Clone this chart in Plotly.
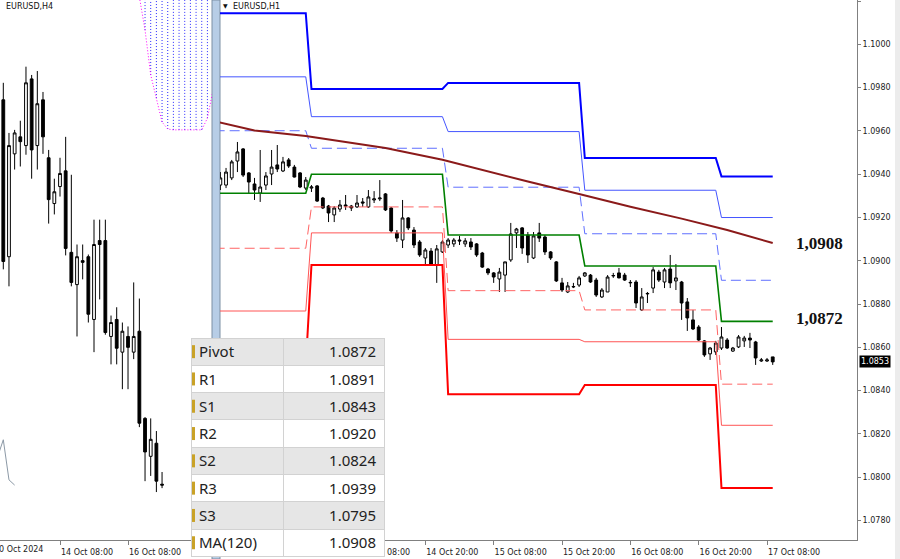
import plotly.graph_objects as go

# ---------------- H4 panel (left) ----------------
h4_bar = list(range(29))
h4_open = [1.09434, 1.09074, 1.09310, 1.09349, 1.09329, 1.09482, 1.09329, 1.09434, 1.09301, 1.09196,
           1.09235, 1.09271, 1.09084, 1.09010, 1.09065, 1.09074, 1.08930, 1.09111, 1.09111, 1.08891,
           1.08930, 1.08855, 1.08891, 1.08855, 1.08903, 1.08703, 1.08616, 1.08646, 1.08552]
h4_high = [1.09473, 1.09358, 1.09365, 1.09386, 1.09510, 1.09491, 1.09500, 1.09452, 1.09319, 1.09253,
           1.09301, 1.09349, 1.09262, 1.09102, 1.09102, 1.09079, 1.09159, 1.09159, 1.09159, 1.08939,
           1.08958, 1.08923, 1.08914, 1.09015, 1.08978, 1.08706, 1.08703, 1.08674, 1.08580]
h4_low = [1.09045, 1.09006, 1.09274, 1.09281, 1.09308, 1.09253, 1.09274, 1.09310, 1.09150, 1.09171,
          1.09212, 1.09077, 1.09006, 1.08891, 1.09022, 1.08923, 1.08855, 1.08976, 1.08895, 1.08827,
          1.08827, 1.08770, 1.08770, 1.08839, 1.08683, 1.08559, 1.08571, 1.08534, 1.08543]
h4_close = [1.09063, 1.09329, 1.09358, 1.09338, 1.09473, 1.09319, 1.09425, 1.09349, 1.09205, 1.09223,
            1.09265, 1.09093, 1.09015, 1.09074, 1.09061, 1.08942, 1.09102, 1.09102, 1.08900, 1.08923,
            1.08864, 1.08903, 1.08866, 1.08891, 1.08692, 1.08626, 1.08655, 1.08559, 1.08550]
h4_tick_bars = [10, 22]
h4_tick_text = ["14 Oct 08:00", "16 Oct 08:00"]
h4_first_label = "10 Oct 2024"

h4_chikou_bar = [-1, 0, 1, 2]
h4_chikou = [1.08615, 1.08654, 1.08562, 1.08550]

cloud_bar = [24, 25, 26, 27, 28, 29, 30, 31, 32, 33, 34, 35, 36, 37]
cloud_lower = [1.09670, 1.09594, 1.09491, 1.09438, 1.09383, 1.09367, 1.09365, 1.09365, 1.09365,
               1.09365, 1.09365, 1.09365, 1.09392, 1.09457]
cloud_upper = [1.09720, 1.09720, 1.09720, 1.09720, 1.09720, 1.09720, 1.09720, 1.09720, 1.09720,
               1.09720, 1.09720, 1.09720, 1.09720, 1.09720]

# ---------------- H1 panel (right) ----------------
h1_bar = list(range(-24, 74))
h1_open = [1.09350, 1.09350, 1.09383, 1.09461, 1.09517, 1.09406, 1.09355, 1.09313, 1.09350, 1.09401,
           1.09443, 1.09415, 1.09466, 1.09433, 1.09406, 1.09336, 1.09336, 1.09346, 1.09290, 1.09253,
           1.09212, 1.09239, 1.09258, 1.09253, 1.09249, 1.09272, 1.09249, 1.09281, 1.09286, 1.09309,
           1.09244, 1.09129, 1.09096, 1.09198, 1.09142, 1.09087, 1.09013, 1.09045, 1.08981, 1.09041,
           1.09073, 1.09078, 1.09096, 1.09078, 1.09087, 1.09078, 1.09036, 1.08962, 1.08944, 1.08916,
           1.08934, 1.09004, 1.09129, 1.09152, 1.09119, 1.09013, 1.09129, 1.09110, 1.09041, 1.08995,
           1.08898, 1.08856, 1.08879, 1.08888, 1.08930, 1.08934, 1.08911, 1.08833, 1.08856, 1.08930,
           1.08944, 1.08934, 1.08898, 1.08902, 1.08773, 1.08847, 1.08874, 1.08948, 1.08902, 1.08962,
           1.08907, 1.08902, 1.08810, 1.08727, 1.08694, 1.08630, 1.08570, 1.08579, 1.08597, 1.08634,
           1.08583, 1.08602, 1.08630, 1.08643, 1.08625, 1.08537, 1.08537, 1.08556]
h1_high = [1.09410, 1.09429, 1.09466, 1.09549, 1.09521, 1.09410, 1.09383, 1.09512, 1.09410, 1.09512,
           1.09535, 1.09480, 1.09475, 1.09443, 1.09410, 1.09387, 1.09350, 1.09350, 1.09295, 1.09258,
           1.09253, 1.09281, 1.09304, 1.09258, 1.09304, 1.09290, 1.09327, 1.09322, 1.09373, 1.09313,
           1.09249, 1.09142, 1.09281, 1.09202, 1.09156, 1.09096, 1.09059, 1.09059, 1.09073, 1.09096,
           1.09105, 1.09105, 1.09115, 1.09105, 1.09105, 1.09082, 1.09041, 1.08967, 1.08948, 1.08967,
           1.08995, 1.09175, 1.09152, 1.09156, 1.09133, 1.09133, 1.09175, 1.09119, 1.09045, 1.08999,
           1.08921, 1.08902, 1.08898, 1.08930, 1.08948, 1.08939, 1.08921, 1.08874, 1.08934, 1.08944,
           1.08967, 1.08944, 1.08911, 1.08911, 1.08874, 1.08856, 1.08971, 1.08958, 1.08967, 1.09027,
           1.08985, 1.08907, 1.08828, 1.08773, 1.08703, 1.08634, 1.08602, 1.08630, 1.08694, 1.08643,
           1.08602, 1.08657, 1.08653, 1.08667, 1.08630, 1.08551, 1.08551, 1.08556]
h1_low = [1.09327, 1.09336, 1.09373, 1.09410, 1.09387, 1.09313, 1.09281, 1.09272, 1.09327, 1.09350,
          1.09410, 1.09410, 1.09429, 1.09385, 1.09336, 1.09327, 1.09318, 1.09272, 1.09239, 1.09179,
          1.09179, 1.09226, 1.09235, 1.09230, 1.09244, 1.09249, 1.09244, 1.09267, 1.09276, 1.09230,
          1.09129, 1.09087, 1.09059, 1.09142, 1.09059, 1.09018, 1.08981, 1.08981, 1.08898, 1.09036,
          1.09059, 1.09064, 1.09073, 1.09064, 1.09050, 1.09018, 1.08967, 1.08934, 1.08898, 1.08856,
          1.08856, 1.08995, 1.09059, 1.09032, 1.08990, 1.09008, 1.09087, 1.09027, 1.09004, 1.08902,
          1.08856, 1.08851, 1.08874, 1.08879, 1.08925, 1.08898, 1.08833, 1.08828, 1.08856, 1.08921,
          1.08919, 1.08907, 1.08879, 1.08782, 1.08768, 1.08805, 1.08851, 1.08902, 1.08874, 1.08874,
          1.08865, 1.08727, 1.08676, 1.08680, 1.08630, 1.08556, 1.08542, 1.08565, 1.08588, 1.08593,
          1.08579, 1.08597, 1.08602, 1.08597, 1.08519, 1.08533, 1.08533, 1.08519]
h1_close = [1.09383, 1.09410, 1.09457, 1.09503, 1.09396, 1.09364, 1.09327, 1.09341, 1.09392, 1.09433,
            1.09424, 1.09457, 1.09438, 1.09387, 1.09341, 1.09373, 1.09341, 1.09276, 1.09244, 1.09221,
            1.09244, 1.09258, 1.09253, 1.09244, 1.09267, 1.09267, 1.09295, 1.09286, 1.09290, 1.09235,
            1.09138, 1.09105, 1.09198, 1.09152, 1.09073, 1.09027, 1.09050, 1.08985, 1.09055, 1.09087,
            1.09096, 1.09096, 1.09092, 1.09092, 1.09064, 1.09027, 1.08971, 1.08944, 1.08925, 1.08948,
            1.08995, 1.09124, 1.09147, 1.09059, 1.09027, 1.09115, 1.09105, 1.09041, 1.09013, 1.08907,
            1.08865, 1.08884, 1.08881, 1.08921, 1.08944, 1.08902, 1.08842, 1.08865, 1.08925, 1.08932,
            1.08921, 1.08911, 1.08900, 1.08805, 1.08833, 1.08849, 1.08958, 1.08911, 1.08958, 1.08898,
            1.08921, 1.08805, 1.08736, 1.08685, 1.08634, 1.08565, 1.08597, 1.08620, 1.08648, 1.08597,
            1.08597, 1.08648, 1.08643, 1.08634, 1.08551, 1.08542, 1.08542, 1.08533]
h1_tick_bars = [0, 12, 24, 36, 48, 60, 72]
h1_tick_text = ["14 Oct 08:00", "14 Oct 20:00", "15 Oct 08:00",
                "15 Oct 20:00", "16 Oct 08:00", "16 Oct 20:00", "17 Oct 08:00"]

# daily pivot levels (one value per trading day)
day_start = [-25, -8, 16, 40, 64]
day_end = [-9, 15, 39, 63, 73]
r3 = [1.10144, 1.09794, 1.09822, 1.09475, 1.0939]
r2 = [1.09850, 1.09666, 1.09597, 1.09326, 1.0920]
r1 = [1.09601, 1.09520, 1.09340, 1.09125, 1.0891]
pivot = [1.09312, 1.09400, 1.09119, 1.08976, 1.0872]
s1 = [1.09058, 1.09249, 1.08862, 1.08773, 1.0843]
s2 = [1.08768, 1.09129, 1.08637, 1.08626, 1.0824]
s3 = [1.08515, 1.08981, 1.08383, 1.08426, 1.0795]

ma_bar = [-25, -18, -9, 5, 15, 30, 39, 48, 57, 65, 73]
ma_val = [1.09645, 1.09602, 1.09577, 1.09521, 1.09467, 1.09366, 1.09309, 1.09250, 1.09195, 1.09142, 1.09082]

table_labels = ["Pivot", "R1", "S1", "R2", "S2", "R3", "S3", "MA(120)"]
table_values = [1.0872, 1.0891, 1.0843, 1.0920, 1.0824, 1.0939, 1.0795, 1.0908]

for arr in (h1_open, h1_high, h1_low, h1_close):
    assert len(arr) == len(h1_bar)
for arr in (h4_open, h4_high, h4_low, h4_close):
    assert len(arr) == len(h4_bar)

fig = go.Figure()

# ---- H4 traces ----
col_x, col_y = [], []
for b, lo, hi in zip(cloud_bar, cloud_lower, cloud_upper):
    col_x += [b, b, None]
    col_y += [lo, hi, None]
fig.add_trace(go.Scatter(x=col_x, y=col_y, mode="lines", xaxis="x", yaxis="y",
                         line=dict(color="#2a2aff", width=1, dash="1px,2px"), hoverinfo="skip"))
fig.add_trace(go.Scatter(x=cloud_bar, y=cloud_lower, mode="lines", xaxis="x", yaxis="y",
                         line=dict(color="#ff00ff", width=1, dash="1px,2px"), hoverinfo="skip"))
fig.add_trace(go.Scatter(x=h4_chikou_bar, y=h4_chikou, mode="lines", xaxis="x", yaxis="y",
                         line=dict(color="#8c99a6", width=1), hoverinfo="skip"))
fig.add_trace(go.Candlestick(x=h4_bar, open=h4_open, high=h4_high, low=h4_low, close=h4_close,
                             xaxis="x", yaxis="y", whiskerwidth=0,
                             increasing=dict(line=dict(color="black", width=1), fillcolor="white"),
                             decreasing=dict(line=dict(color="black", width=1), fillcolor="black"),
                             hoverinfo="skip"))

# ---- H1 traces ----
fig.add_trace(go.Candlestick(x=h1_bar, open=h1_open, high=h1_high, low=h1_low, close=h1_close,
                             xaxis="x2", yaxis="y2", whiskerwidth=0,
                             increasing=dict(line=dict(color="black", width=1), fillcolor="white"),
                             decreasing=dict(line=dict(color="black", width=1), fillcolor="black"),
                             hoverinfo="skip"))


def step_xy(levels):
    xs, ys = [], []
    for s, e, v in zip(day_start, day_end, levels):
        xs += [s, e]
        ys += [v, v]
    return xs, ys


level_styles = [
    (r3, "#0000ff", 2, "solid"),
    (r2, "#4455ff", 1, "solid"),
    (r1, "#5f6fff", 1, "10px,5px"),
    (pivot, "#008000", 1.6, "solid"),
    (s1, "#ff6464", 1, "10px,5px"),
    (s2, "#ff5555", 1, "solid"),
    (s3, "#ff0000", 2, "solid"),
]
for levels, color, width, dash in level_styles:
    xs, ys = step_xy(levels)
    fig.add_trace(go.Scatter(x=xs, y=ys, mode="lines", xaxis="x2", yaxis="y2",
                             line=dict(color=color, width=width, dash=dash), hoverinfo="skip"))

fig.add_trace(go.Scatter(x=ma_bar, y=ma_val, mode="lines", xaxis="x2", yaxis="y2",
                         line=dict(color="#8b1a1a", width=2), hoverinfo="skip"))

# ---- table ----
gray, white = "#e6e6e6", "#ffffff"
row_fills = [white, gray, white, gray, white, gray, white]
table_top = (559 - 338) / 559
row_h = 27.3
fig.add_trace(go.Table(
    domain=dict(x=[191 / 900, 385 / 900], y=[0, table_top]),
    columnwidth=[93, 101],
    header=dict(values=[table_labels[0], f"{table_values[0]:.4f}"],
                fill_color=gray, line_color="#d2d2d2", align=["left", "right"],
                font=dict(family="Noto Sans", size=15, color="#222222"), height=row_h),
    cells=dict(values=[table_labels[1:], [f"{v:.4f}" for v in table_values[1:]]],
               fill_color=[row_fills, row_fills], line_color="#d2d2d2", align=["left", "right"],
               font=dict(family="Noto Sans", size=15, color="#222222"), height=row_h),
))

# small gold indicator icons at the left of each table row
icon_shapes = []
for k in range(len(table_labels)):
    yc = table_top - (k + 0.5) * row_h / 559
    icon_shapes.append(dict(type="rect", xref="paper", yref="paper", x0=192 / 900, x1=195 / 900,
                            y0=yc - 6.5 / 559, y1=yc + 6.5 / 559, fillcolor="#c9a227",
                            line=dict(width=0), layer="above"))

axis_font = dict(family="DejaVu Sans", size=8, color="#222222")
y_dom = [19 / 559, 1]
fig.update_layout(
    width=900, height=559, margin=dict(l=0, r=0, t=0, b=0),
    paper_bgcolor="white", plot_bgcolor="white", showlegend=False, boxgap=0.3,
    xaxis=dict(domain=[0, 212 / 900], range=[-0.582, 36.81], anchor="y", showgrid=False, zeroline=False,
               showline=True, linecolor="#808080", ticks="outside", ticklen=4, tickcolor="#808080",
               tickvals=h4_tick_bars, ticktext=h4_tick_text, tickfont=axis_font, ticklabelshift=27,
               rangeslider=dict(visible=False)),
    yaxis=dict(domain=y_dom, range=[1.08424, 1.09663], anchor="x", visible=False),
    xaxis2=dict(domain=[220 / 900, 857 / 900], range=[-24.06, 87.8], anchor="y2", showgrid=False,
                zeroline=False, showline=True, linecolor="#808080", ticks="outside", ticklen=4,
                tickcolor="#808080", tickvals=h1_tick_bars, ticktext=h1_tick_text, tickfont=axis_font,
                ticklabelshift=27, rangeslider=dict(visible=False)),
    yaxis2=dict(domain=y_dom, range=[1.0771, 1.10205], anchor="x2", side="right", showgrid=False,
                zeroline=False, showline=True, linecolor="#808080", ticks="outside", ticklen=3,
                tickcolor="#808080", tick0=1.078, dtick=0.002, tickformat=".4f", tickfont=axis_font),
    shapes=[
        dict(type="rect", xref="paper", yref="paper", x0=212 / 900, x1=220 / 900, y0=0, y1=1,
             fillcolor="#b7cde6", line=dict(color="#7d8fa3", width=1), layer="below"),
        dict(type="rect", xref="paper", yref="paper", x0=895 / 900, x1=1, y0=0, y1=1,
             fillcolor="#ececec", line=dict(width=0), layer="below"),
    ] + icon_shapes,
)

ma_last = table_values[7]
piv_last = table_values[0]
annotations = [
    dict(text="EURUSD,H4", xref="paper", yref="paper", x=4 / 900, y=1 - 7 / 559, xanchor="left",
         yanchor="middle", showarrow=False, font=dict(family="DejaVu Sans", size=8, color="#111111")),
    dict(text="\u25bc", xref="paper", yref="paper", x=221 / 900, y=1 - 6 / 559, xanchor="left",
         yanchor="middle", showarrow=False, font=dict(family="DejaVu Sans", size=6, color="#111111")),
    dict(text="EURUSD,H1", xref="paper", yref="paper", x=231 / 900, y=1 - 7 / 559, xanchor="left",
         yanchor="middle", showarrow=False, font=dict(family="DejaVu Sans", size=8, color="#111111")),
    dict(text=h4_first_label, xref="paper", yref="paper", x=-8 / 900, y=10 / 559, xanchor="left",
         yanchor="middle", showarrow=False, font=axis_font),
    dict(text="<b>" + f"{ma_last:.4f}".replace(".", ",") + "</b>", xref="paper", yref="y2",
         x=819 / 900, y=ma_last, xanchor="center", yanchor="middle", showarrow=False,
         font=dict(family="Liberation Serif", size=17, color="#111111")),
    dict(text="<b>" + f"{piv_last:.4f}".replace(".", ",") + "</b>", xref="paper", yref="y2",
         x=819 / 900, y=piv_last, xanchor="center", yanchor="middle", showarrow=False, yshift=3,
         font=dict(family="Liberation Serif", size=17, color="#111111")),
    dict(text=f"{h1_close[-1]:.4f}", xref="paper", yref="y2", x=859 / 900, y=h1_close[-1],
         xanchor="left", yanchor="middle", showarrow=False, bgcolor="black", borderpad=1,
         font=dict(family="DejaVu Sans", size=8, color="white")),
]
fig.update_layout(annotations=annotations)

fig.write_html("out.html", config={"displayModeBar": False},
               post_script="document.body.style.margin='0px';document.body.style.padding='0px';")
